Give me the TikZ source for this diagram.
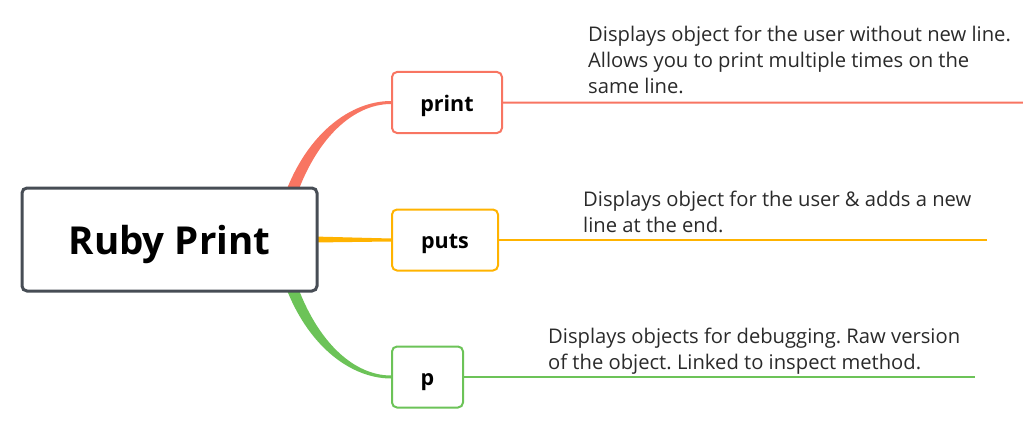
\documentclass[tikz,border=0pt]{standalone}
\usepackage{fontspec}
\setmainfont{Open Sans}
\usetikzlibrary{calc}
\pgfdeclarelayer{background}
\pgfsetlayers{background,main}
\frenchspacing
\definecolor{cred}{HTML}{F87562}
\definecolor{cyel}{HTML}{FFB300}
\definecolor{cgrn}{HTML}{6CC358}
\definecolor{cdark}{HTML}{474D55}
\definecolor{ctext}{HTML}{2A2A2A}
\begin{document}
\begin{tikzpicture}[x=1pt,y=-1pt,
  mainbox/.style={draw=cdark,line width=3pt,rounded corners=5pt,fill=white,
    minimum width=295pt,minimum height=103pt,inner sep=0pt,text height=30pt,text depth=0pt,
    font=\fontsize{38.5}{44}\selectfont\bfseries},
  topic/.style={draw=#1,line width=2pt,rounded corners=5pt,fill=white,
    minimum height=61pt,inner sep=0pt,text height=17pt,text depth=0pt,
    font=\fontsize{21.5}{26}\selectfont\bfseries},
  desc/.style={anchor=base west,align=left,text=ctext,inner sep=0pt,
    font=\fontsize{20.2}{26}\selectfont},
  leaf/.style={line width=2pt}]
\useasboundingbox (0,0) rectangle (1023,436);

% nodes
\node[mainbox] (root) at (169.5,239.5) {Ruby Print};
\node[topic=cred,minimum width=110pt] (print) at (447,102.5) {print};
\node[topic=cyel,minimum width=106pt] (puts) at (445,240) {puts};
\node[topic=cgrn,minimum width=71pt] (p) at (427.5,377) {p};

% tapered branches (behind boxes)
\begin{pgfonlayer}{background}
\path (root.center) coordinate (rc);
\fill[cred] ($(rc)+(109,-25)$) .. controls ($(rc)+(129,-100)$) and ($(print.west)+(-44,-1.5)$) .. ($(print.west)+(0,-1.5)$)
  -- ($(print.west)+(0,1.5)$) .. controls ($(print.west)+(-40,1.5)$) and ($(rc)+(141,-97)$) .. ($(rc)+(121,-25)$) -- cycle;
\fill[cgrn] ($(rc)+(109,25)$) .. controls ($(rc)+(129,100)$) and ($(p.west)+(-44,1.5)$) .. ($(p.west)+(0,1.5)$)
  -- ($(p.west)+(0,-1.5)$) .. controls ($(p.west)+(-40,-1.5)$) and ($(rc)+(141,97)$) .. ($(rc)+(121,25)$) -- cycle;
\fill[cyel] ($(root.east)+(-5,-3)$) -- ($(puts.west)+(0,-1.5)$) -- ($(puts.west)+(0,1.5)$) -- ($(root.east)+(-5,3)$) -- cycle;
\end{pgfonlayer}

% leaf lines
\coordinate (printend) at (1023,102.7);
\coordinate (putsend) at (987,240);
\coordinate (pend) at (975,377);
\draw[leaf,cred] (print.east) -- (printend);
\draw[leaf,cyel] (puts.east) -- (putsend);
\draw[leaf,cgrn] (p.east) -- (pend);

% descriptions (anchored at last line baseline)
\node[desc] (dprint) at (588,93.3) {Displays object for the user without new line.\\Allows you to print multiple times on the\\same line.};
\node[desc] (dputs) at (583,232.7) {Displays object for the user \& adds a new\\line at the end.};
\node[desc] (dp) at (548,369.3) {Displays objects for debugging. Raw version\\of the object. Linked to inspect method.};
\end{tikzpicture}
\end{document}
